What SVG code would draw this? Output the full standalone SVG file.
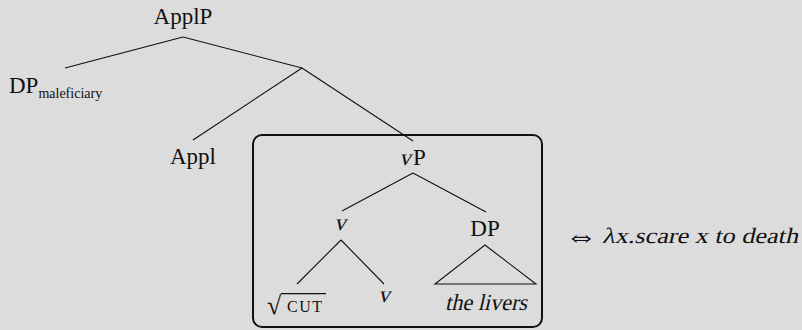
<svg xmlns="http://www.w3.org/2000/svg" width="802" height="330" viewBox="0 0 802 330">
  <style>
    text { font-family: "Liberation Serif", "DejaVu Serif", serif; fill: #111; }
    .lbl { font-size: 23px; text-anchor: middle; }
    .sub { font-size: 14px; }
    .edge { stroke: #111; stroke-width: 1.1; fill: none; }
  </style>
  <rect width="802" height="330" fill="#dcdcdc"/>

  <!-- tree branches -->
  <g id="connectors">
    <line class="edge" x1="183" y1="37" x2="65" y2="68"/>
    <line class="edge" x1="183" y1="37" x2="302" y2="68"/>
    <line class="edge" x1="302" y1="68" x2="193" y2="140"/>
    <line class="edge" x1="302" y1="68" x2="413" y2="141"/>
    <line class="edge" x1="413" y1="173" x2="342" y2="211"/>
    <line class="edge" x1="413" y1="173" x2="486" y2="212"/>
    <line class="edge" x1="341" y1="240" x2="297" y2="284"/>
    <line class="edge" x1="341" y1="240" x2="384" y2="284"/>
    <path class="edge" d="M485 245 L435 284 L536 284 Z"/>
  </g>

  <!-- highlighted vP subtree -->
  <rect id="frame" x="253" y="135" width="289" height="192" rx="9" fill="none" stroke="#111" stroke-width="2"/>

  <g id="applp"><text class="lbl" x="183" y="24">ApplP</text></g>
  <g id="dp-mal">
    <text x="9" y="93" font-size="23">DP<tspan class="sub" dy="5">maleficiary</tspan></text>
  </g>
  <g id="appl"><text class="lbl" x="193" y="164">Appl</text></g>
  <g id="vp">
    <text class="lbl" transform="translate(405 165) skewX(-13)" x="0" y="0" font-size="22">v</text>
    <text x="413" y="165" font-size="23">P</text>
  </g>
  <g id="v-mid"><text class="lbl" transform="translate(340 230) skewX(-13)" x="0" y="0" font-size="22">v</text></g>
  <g id="dp"><text class="lbl" x="485" y="236">DP</text></g>
  <g id="root-cut">
    <text x="267" y="314" font-size="26" font-family="DejaVu Sans, sans-serif">√</text>
    <line x1="281" y1="293.6" x2="326" y2="293.6" stroke="#111" stroke-width="1.2"/>
    <text x="287" y="312" font-size="16" letter-spacing="1.5">CUT</text>
  </g>
  <g id="v-low"><text class="lbl" transform="translate(384 302) skewX(-13)" x="0" y="0" font-size="22">v</text></g>
  <g id="the-livers"><text class="lbl" transform="translate(486 310) skewX(-13)" x="0" y="0" font-size="22" textLength="82" lengthAdjust="spacingAndGlyphs">the livers</text></g>
  <g id="meaning">
    <text x="565" y="246" font-size="32" font-family="DejaVu Serif, serif">⇔</text>
    <text transform="translate(602 243) skewX(-13)" x="0" y="0" font-size="22" textLength="196" lengthAdjust="spacingAndGlyphs">λx.scare x to death</text>
  </g>
</svg>
